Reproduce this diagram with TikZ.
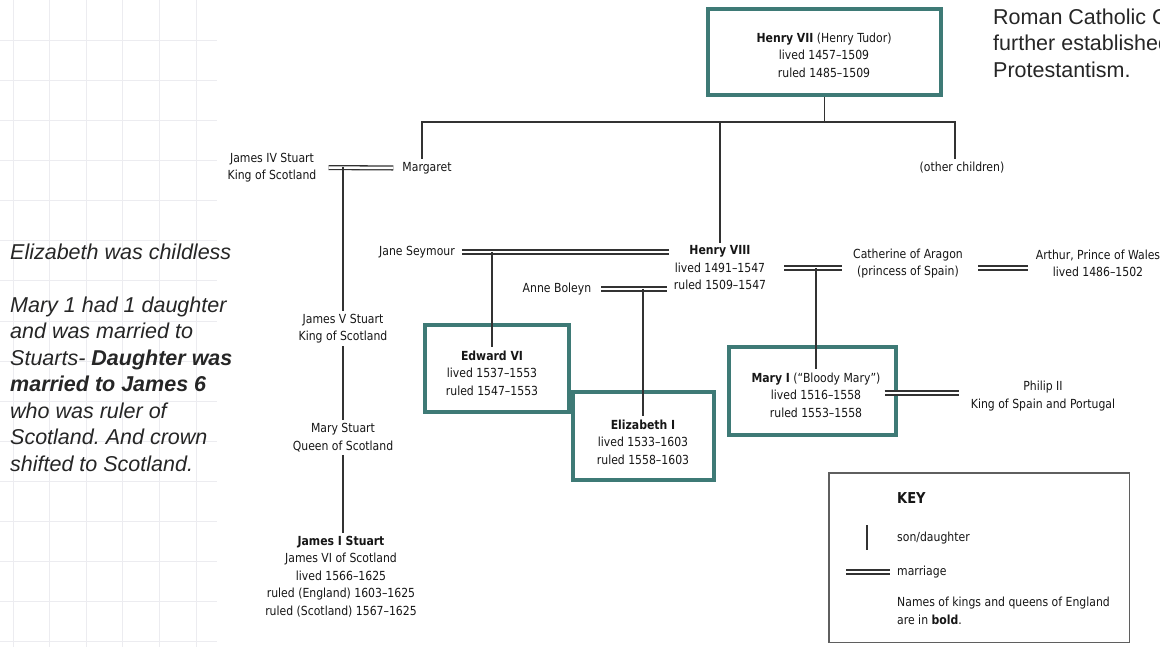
\documentclass[tikz,border=0pt]{standalone}
\usepackage{fontspec}
\setmainfont{DejaVu Sans}[FakeStretch=0.87]
\newfontfamily\notefont{Liberation Sans}
\usetikzlibrary{
  calc,
  positioning
}
\frenchspacing

\definecolor{boxteal}{RGB}{62,122,118}
\definecolor{textgray}{RGB}{22,22,22}
\definecolor{linegray}{RGB}{50,50,50}
\definecolor{keygray}{RGB}{95,95,95}
\definecolor{gridgray}{RGB}{236,236,240}

\begin{document}
\begin{tikzpicture}[x=1pt,y=-1pt,
  person/.style={align=center,inner sep=3pt,text=textgray,
    font=\fontsize{12.5}{17.5}\selectfont},
  kingbox/.style={draw=boxteal,line width=4pt,inner sep=0pt},
  descent/.style={draw=linegray,line width=1.3pt},
  marriage/.style={draw=linegray,line width=1.3pt,double=white,double distance=2.5pt},
  keytext/.style={anchor=west,align=left,inner sep=0pt,text=textgray,
    font=\fontsize{12.5}{17.5}\selectfont},
  gridline/.style={draw=gridgray,line width=1pt},
  note/.style={anchor=north west,align=left,inner sep=0pt,text=black!85,
    font=\notefont\fontsize{21.5}{26.5}\selectfont}]

  \path[use as bounding box] (0, 0) rectangle (1160, 647);
  \clip (0, 0) rectangle (1160, 647);
  \fill[white] (0, 0) rectangle (1160, 647);

  % squared paper behind the notes
  \foreach \gx in {0,...,5}
    \draw[gridline] ({13 + 36.6*\gx}, 0) -- ({13 + 36.6*\gx}, 647);
  \foreach \gy in {0,...,15}
    \draw[gridline] (0, {41 + 40*\gy}) -- (217, {41 + 40*\gy});

  \node[note] at (10, 243.5) (Left Note) {\itshape Elizabeth was childless\\[26.5pt]
    \itshape Mary 1 had 1 daughter\\\itshape and was married to\\
    \itshape Stuarts- \textbf{Daughter was}\\\itshape\bfseries married to James 6\\
    \itshape who was ruler of\\\itshape Scotland. And crown\\\itshape shifted to Scotland.};
  \node[note] at (993, 8.5) (Top Note) {Roman Catholic Church\\further established\\Protestantism.};

  % boxes of the kings and queens
  \node[kingbox,minimum width=233,minimum height=86] at (824.5, 52) (Henry VII Box) {};
  \node[kingbox,minimum width=144,minimum height=87] at (497, 368.5) (Edward VI Box) {};
  \node[kingbox,minimum width=141,minimum height=88] at (643.5, 436) (Elizabeth I Box) {};
  \node[kingbox,minimum width=167,minimum height=88] at (812.5, 391) (Mary I Box) {};

  \node[person] at (824, 55) (Henry VII) {\textbf{Henry VII} (Henry Tudor)\\lived 1457--1509\\ruled 1485--1509};
  \node[person] at (272, 167.5) (James IV) {James IV Stuart\\King of Scotland};
  \node[person] at (427, 168) (Margaret) {Margaret};
  \node[person] at (962, 168) (Other Children) {(other children)};
  \node[person] at (417, 252) (Jane Seymour) {Jane Seymour};
  \node[person] at (720, 268) (Henry VIII) {\textbf{Henry VIII}\\lived 1491--1547\\ruled 1509--1547};
  \node[person] at (557, 289) (Anne Boleyn) {Anne Boleyn};
  \node[person] at (908, 263.5) (Catherine) {Catherine of Aragon\\(princess of Spain)};
  \node[person] at (1098, 263.5) (Arthur) {Arthur, Prince of Wales\\lived 1486--1502};
  \node[person] at (343, 328.5) (James V) {James V Stuart\\King of Scotland};
  \node[person] at (492, 373) (Edward VI) {\textbf{Edward VI}\\lived 1537--1553\\ruled 1547--1553};
  \node[person] at (643, 442) (Elizabeth I) {\textbf{Elizabeth I}\\lived 1533--1603\\ruled 1558--1603};
  \node[person] at (816, 395) (Mary I) {\textbf{Mary I} (“Bloody Mary”)\\lived 1516--1558\\ruled 1553--1558};
  \node[person] at (1043, 396) (Philip II) {Philip II\\King of Spain and Portugal};
  \node[person] at (343, 437.5) (Mary Stuart) {Mary Stuart\\Queen of Scotland};
  \node[person] at (341, 576.5) (James I) {\textbf{James I Stuart}\\James VI of Scotland\\lived 1566--1625\\ruled (England) 1603--1625\\ruled (Scotland) 1567--1625};

  % children of Henry VII
  \coordinate (Bar) at (824.5, 122);
  \draw[descent] (Henry VII Box.south) -- (Bar);
  \draw[descent] ([xshift=-5pt]Margaret.north) |- (Bar) -| ([xshift=-7pt]Other Children.north);
  \draw[descent] (Bar -| Henry VIII.north) -- (Henry VIII.north);

  % marriages
  \draw[marriage,shorten <=9pt,shorten >=6pt] (James IV.east) -- (Margaret.west);
  \draw[marriage,shorten <=4pt,shorten >=2pt] (Jane Seymour.east) -- (Jane Seymour.east -| Henry VIII.west);
  \draw[marriage,shorten <=7pt,shorten >=4pt] (Anne Boleyn.east) -- (Anne Boleyn.east -| Henry VIII.west);
  \draw[marriage,shorten <=15pt,shorten >=8pt] (Henry VIII.east) -- (Henry VIII.east -| Catherine.west);
  \draw[marriage,shorten <=12pt,shorten >=5pt] (Catherine.east |- Henry VIII.east) -- (Henry VIII.east -| Arthur.west);
  \draw[marriage,shorten <=1pt,shorten >=9pt] ([yshift=3pt]Philip II.west -| Mary I.east) -- ([yshift=3pt]Philip II.west);

  % sons and daughters
  \draw[descent] (James V.north |- James IV.east) -- (James V.north);
  \draw[descent] (James V.south) -- (Mary Stuart.north);
  \draw[descent] (Mary Stuart.south) -- (Mary Stuart.south |- James I.north);
  \draw[descent] (Edward VI.north |- Jane Seymour.east) -- (Edward VI.north);
  \draw[descent] (Elizabeth I.north |- Anne Boleyn.east) -- (Elizabeth I.north);
  \draw[descent] (Mary I.north |- Henry VIII.east) -- (Mary I.north);

  % key
  \node[draw=keygray,line width=1.5pt,minimum width=300.5,minimum height=169.5,inner sep=0pt]
    at (979, 557.5) (Key Box) {};
  \node[keytext,font=\fontsize{15}{18}\selectfont\bfseries] at (897, 498) (Key Title) {KEY};
  \node[keytext] at (897, 538) (Key Son) {son/daughter};
  \node[keytext] at (897, 572) (Key Marriage) {marriage};
  \node[keytext,anchor=north west] at (897, 597) (Key Bold) {Names of kings and queens of England\\are in \textbf{bold}.};
  \draw[descent] ($(Key Son.west) + (-30, -13)$) -- ($(Key Son.west) + (-30, 12)$);
  \draw[marriage] ($(Key Marriage.west) + (-51, 0)$) -- ($(Key Marriage.west) + (-7, 0)$);
\end{tikzpicture}
\end{document}
